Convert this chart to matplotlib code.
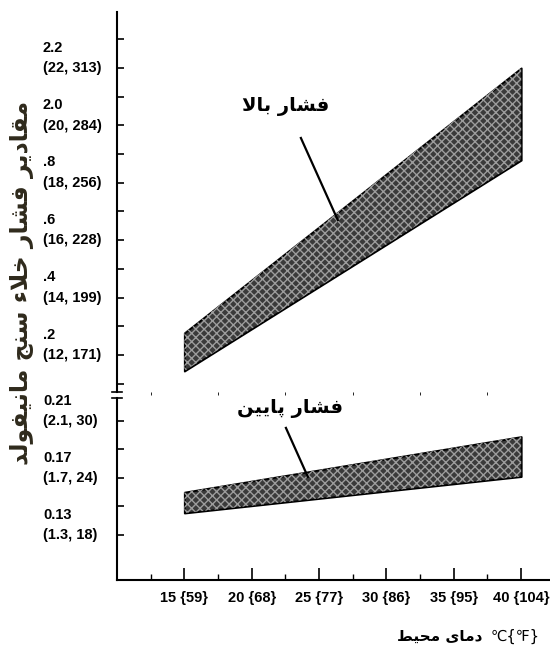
import matplotlib
matplotlib.use('Agg')
import matplotlib.pyplot as plt
import numpy as np

plt.rcParams['font.family'] = ['Liberation Sans', 'DejaVu Sans']

### values
temps = [15, 40]                  # degC, ends of the bands
high_top = [1.277, 2.20]          # bar
high_bot = [1.144, 1.879]
low_top = [0.160, 0.199]
low_bot = [0.1454, 0.171]

x_ticks = [15, 20, 25, 30, 35, 40]
x_labels = ['15 {59}', '20 {68}', '25 {77}', '30 {86}', '35 {95}', '40 {104}']
hi_ticks = [2.2, 2.0, 1.8, 1.6, 1.4, 1.2]
hi_labels = ['2.2\n(22, 313)', '2.0\n(20, 284)', '.8\n(18, 256)',
             '.6\n(16, 228)', '.4\n(14, 199)', '.2\n(12, 171)']
lo_ticks = [0.21, 0.17, 0.13]
lo_labels = ['0.21\n(2.1, 30)', '0.17\n(1.7, 24)', '0.13\n(1.3, 18)']

ylabel_fa = 'مقادیر فشار خلاء سنج مانیفولد'
xlabel_fa = 'دمای محیط'
high_fa = 'فشار بالا'
low_fa = 'فشار پایین'
###

# matplotlib does no arabic shaping -> pick presentation forms by hand
# order in the unicode blocks: isolated, final, initial, medial
DUAL = {'ب': 0xFE8F, 'ج': 0xFE9D, 'ح': 0xFEA1, 'خ': 0xFEA5, 'س': 0xFEB1,
        'ش': 0xFEB5, 'ط': 0xFEC1, 'ف': 0xFED1, 'ق': 0xFED5, 'ل': 0xFEDD,
        'م': 0xFEE1, 'ن': 0xFEE5, 'پ': 0xFB56, 'ی': 0xFBFC}
RIGHT = {'ا': 0xFE8D, 'د': 0xFEA9, 'ر': 0xFEAD, 'و': 0xFEED}


def shape(text):
    out = []
    i, n = 0, len(text)
    while i < n:
        c = text[i]
        joins_prev = i > 0 and text[i-1] in DUAL
        if c == 'ل' and i + 1 < n and text[i+1] == 'ا':
            out.append(chr(0xFEFC if joins_prev else 0xFEFB))
            i += 2
            continue
        nxt = text[i+1] if i + 1 < n else ' '
        joins_next = nxt in DUAL or nxt in RIGHT
        if c in DUAL:
            k = {(False, False): 0, (True, False): 1, (False, True): 2, (True, True): 3}[(joins_prev, joins_next)]
            out.append(chr(DUAL[c] + k))
        elif c in RIGHT:
            out.append(chr(RIGHT[c] + (1 if joins_prev else 0)))
        else:
            out.append(c)
        i += 1
    return ''.join(reversed(out))


fa_font = dict(family=['DejaVu Sans'], fontweight='bold')
lbl_font = dict(fontsize=10.5, fontweight='bold', linespacing=1.6)

fig = plt.figure(figsize=(5.5, 6.59), dpi=100)
ax_top = fig.add_axes([0.2127, 0.4052, 0.7873, 0.5766])
ax_bot = fig.add_axes([0.2127, 0.1199, 0.7873, 0.2762], sharex=ax_top)

band_kw = dict(facecolor='#3a3a3a', edgecolor='black', linewidth=1.4)
ax_top.fill_between(temps, high_bot, high_top, **band_kw)
ax_top.fill_between(temps, high_bot, high_top, facecolor='none', edgecolor='#9c9c9c',
                    hatch='xxxx', linewidth=0)
ax_bot.fill_between(temps, low_bot, low_top, **band_kw)
ax_bot.fill_between(temps, low_bot, low_top, facecolor='none', edgecolor='#9c9c9c',
                    hatch='xxxx', linewidth=0)

ax_top.set_xlim(10, 42.14)
ax_top.set_ylim(1.071, 2.395)
ax_bot.set_ylim(0.0984, 0.2261)

for ax in (ax_top, ax_bot):
    for s in ('top', 'right'):
        ax.spines[s].set_visible(False)
    ax.spines['left'].set_linewidth(1.5)
    ax.tick_params(axis='y', direction='in', length=5, width=1.2, labelleft=False)
ax_top.spines['bottom'].set_visible(False)
ax_top.tick_params(axis='x', bottom=False, labelbottom=False)
ax_bot.spines['bottom'].set_linewidth(1.5)

ax_top.set_yticks(np.arange(1.1, 2.35, 0.1))
ax_bot.set_yticks([0.13, 0.15, 0.17, 0.19, 0.21])

ax_bot.set_xticks(x_ticks, x_labels, fontsize=10.5, fontweight='bold')
ax_bot.set_xticks([12.5, 17.5, 22.5, 27.5, 32.5, 37.5], minor=True)
ax_bot.tick_params(axis='x', which='major', direction='in', length=9, width=1.2, pad=8)
ax_bot.tick_params(axis='x', which='minor', direction='in', length=4, width=1.0)

# two-line y labels, the bracket line sits on the tick
for v, t in zip(hi_ticks, hi_labels):
    ax_top.annotate(t, xy=(0, v), xycoords=('axes fraction', 'data'), xytext=(-74, 10),
                    textcoords='offset pixels', ha='left', va='center', **lbl_font)
for v, t in zip(lo_ticks, lo_labels):
    ax_bot.annotate(t, xy=(0, v), xycoords=('axes fraction', 'data'), xytext=(-74, 10),
                    textcoords='offset pixels', ha='left', va='center', **lbl_font)

# axis break marks
for ax, y in ((ax_top, 0.0), (ax_bot, 1.0)):
    ax.plot([-0.012, 0.012], [y, y], transform=ax.transAxes, color='black', lw=1.2, clip_on=False)

# labels on the bands
ax_top.text(22.54, 2.064, shape(high_fa), ha='center', va='center', fontsize=14, **fa_font)
ax_top.plot([23.65, 26.39], [1.956, 1.670], color='black', lw=1.6)
ax_bot.text(22.84, 0.219, shape(low_fa), ha='center', va='center', fontsize=14,
            clip_on=False, **fa_font)
ax_bot.plot([22.54, 24.17], [0.2051, 0.1707], color='black', lw=1.6)

fig.text(0.04, 0.5705, shape(ylabel_fa), rotation=90, ha='center', va='center',
         fontsize=17, color='#2f2a1c', **fa_font)
fig.text(0.878, 0.035, shape(xlabel_fa), ha='right', va='center', fontsize=11, **fa_font)
fig.text(0.892, 0.035, '℃{℉}', ha='left', va='center', fontsize=10.5,
         family=['DejaVu Sans'])

fig.savefig('out.png', dpi=100)
